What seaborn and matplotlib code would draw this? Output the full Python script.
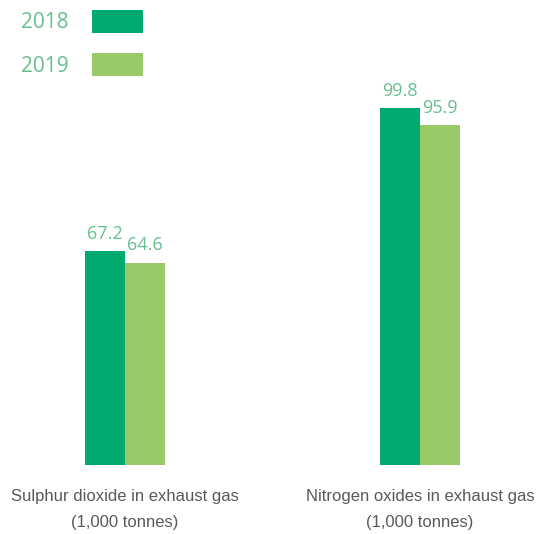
import matplotlib
matplotlib.use("Agg")
import matplotlib.pyplot as plt
import seaborn as sns
import pandas as pd
from matplotlib.patches import Rectangle

# chart data
categories = ["Sulphur dioxide in exhaust gas\n(1,000 tonnes)",
              "Nitrogen oxides in exhaust gas\n(1,000 tonnes)"]
years = ["2018", "2019"]
values_2018 = [67.2, 99.8]
values_2019 = [64.6, 95.9]
colors = ["#00a96e", "#98c967"]
label_color = "#66c08e"

df = pd.DataFrame({
    "category": categories * 2,
    "year": [years[0]] * len(categories) + [years[1]] * len(categories),
    "value": values_2018 + values_2019,
})

sns.set_style("white")
plt.rcParams["font.family"] = ["Open Sans", "DejaVu Sans"]

fig = plt.figure(figsize=(5.4, 5.34), dpi=100)
ax = fig.add_axes([0, 69 / 534, 1, 465 / 534])
sns.barplot(data=df, x="category", y="value", hue="year", palette=colors,
            width=0.268, saturation=1, legend=False, linewidth=0, ax=ax)
ax.set_xlim(-125 / 295, 415 / 295)
ax.set_ylim(18.6, 124.35)

for container in ax.containers:
    ax.bar_label(container, fmt="%.1f", padding=6, color=label_color, fontsize=13)

ax.set_xlabel("")
ax.set_ylabel("")
ax.set_yticks([])
ax.tick_params(axis="x", length=0, pad=17.5)
for lbl in ax.get_xticklabels():
    lbl.set_family(["Liberation Sans", "DejaVu Sans"])
    lbl.set_fontsize(12)
    lbl.set_color("#595959")
    lbl.set_linespacing(1.85)
sns.despine(ax=ax, left=True, bottom=True)

# legend: year text then swatch
for i, (yr, c) in enumerate(zip(years, colors)):
    ytop = 10 + i * 43
    fig.text(21 / 540, 1 - (ytop + 13) / 534, yr, color=label_color,
             fontsize=15, va="center", ha="left")
    fig.add_artist(Rectangle((92 / 540, 1 - (ytop + 23) / 534), 51 / 540, 23 / 534,
                             transform=fig.transFigure, color=c, lw=0))

fig.savefig("out.png", dpi=100)
